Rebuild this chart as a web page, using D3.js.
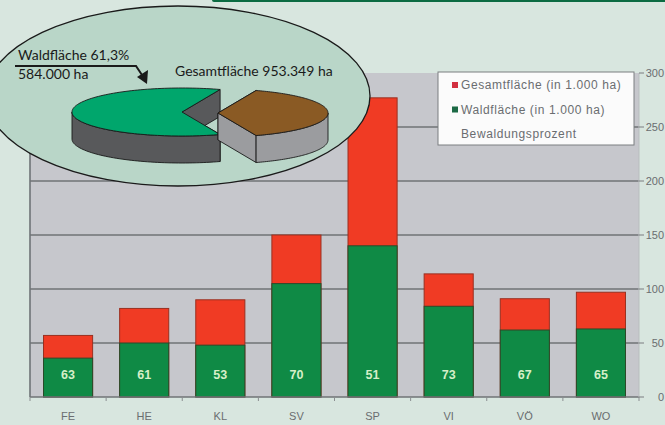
<!DOCTYPE html>
<html><head><meta charset="utf-8">
<script src="https://cdn.jsdelivr.net/npm/d3@7"></script>
<style>html,body{margin:0;padding:0;background:#d8e6df;}svg{display:block;}</style>
</head><body>
<svg id="c" width="665" height="425"></svg>
<script>
// ---- data ----
const categories = ["FE","HE","KL","SV","SP","VI","VÖ","WO"];
const gesamt = [57, 82, 90, 150, 277, 114, 91, 97];      // Gesamtfläche (in 1.000 ha)
const wald   = [36, 50, 48, 105, 140, 84, 62, 63];       // Waldfläche (in 1.000 ha)
const prozent = [63, 61, 53, 70, 51, 73, 67, 65];        // Bewaldungsprozent
const yTicks = [0, 50, 100, 150, 200, 250, 300];
const legendLabels = ["Gesamtfläche (in 1.000 ha)", "Waldfläche (in 1.000 ha)", "Bewaldungsprozent"];
const pieNames = ["Waldfläche", "Übrige Fläche"];
const pieValues = [584000, 369349];
const pieTexts = ["Waldfläche 61,3%", "584.000 ha", "Gesamtfläche 953.349 ha"];

const svg = d3.select("#c");
const W = 665, H = 425;
const plot = {l: 30, r: 639, t: 73, b: 397};

svg.append("rect").attr("width", W).attr("height", H).attr("fill", "#d8e6df");
// header bar
svg.append("rect").attr("x", 212).attr("y", -2).attr("width", 470).attr("height", 4).attr("rx", 2).attr("fill", "#0b6b42");

// ---- bar chart ----
const x = d3.scaleBand().domain(categories).range([plot.l, plot.r]).paddingInner(0.355).paddingOuter(0.1775);
const y = d3.scaleLinear().domain([0, 300]).range([plot.b, plot.t]);

svg.append("rect").attr("x", plot.l).attr("y", plot.t).attr("width", plot.r - plot.l).attr("height", plot.b - plot.t).attr("fill", "#c6c7cc");

// gridlines
svg.append("g").selectAll("line").data(yTicks.filter(d => d > 0 && d < 300)).join("line")
  .attr("x1", plot.l).attr("x2", plot.r).attr("y1", d => y(d)).attr("y2", d => y(d))
  .attr("stroke", "#6f7376").attr("stroke-width", 1.6);
svg.append("line").attr("x1", plot.l).attr("x2", plot.l).attr("y1", plot.t).attr("y2", plot.b).attr("stroke", "#6f7376").attr("stroke-width", 1.6);

// bars
const bars = svg.append("g");
bars.selectAll("rect.g").data(categories).join("rect")
  .attr("x", d => x(d)).attr("width", x.bandwidth())
  .attr("y", (d, i) => y(gesamt[i])).attr("height", (d, i) => y(0) - y(gesamt[i]))
  .attr("fill", "#f03b24").attr("stroke", "#9a3020").attr("stroke-width", 1);
bars.selectAll("rect.w").data(categories).join("rect")
  .attr("x", d => x(d)).attr("width", x.bandwidth())
  .attr("y", (d, i) => y(wald[i])).attr("height", (d, i) => y(0) - y(wald[i]))
  .attr("fill", "#0f8a45").attr("stroke", "#2b4a2a").attr("stroke-width", 1);
bars.selectAll("text").data(categories).join("text")
  .attr("x", d => x(d) + x.bandwidth() / 2).attr("y", 379)
  .attr("text-anchor", "middle").attr("font-family", "Liberation Sans, Arial, sans-serif")
  .attr("font-weight", "bold").attr("font-size", 12.5).attr("fill", "#d6efc8")
  .text((d, i) => prozent[i]);

// x axis
svg.append("line").attr("x1", plot.l).attr("x2", plot.r).attr("y1", plot.b).attr("y2", plot.b).attr("stroke", "#6f7376").attr("stroke-width", 1.6);
const bounds = d3.range(categories.length + 1).map(i => plot.l + i * x.step());
svg.append("g").selectAll("line").data(bounds).join("line")
  .attr("x1", d => d).attr("x2", d => d).attr("y1", plot.b).attr("y2", plot.b + 4)
  .attr("stroke", "#8a8d90").attr("stroke-width", 1);
svg.append("g").selectAll("text").data(categories).join("text")
  .attr("x", d => x(d) + x.bandwidth() / 2).attr("y", 420)
  .attr("text-anchor", "middle").attr("font-family", "Liberation Sans, Arial, sans-serif")
  .attr("font-size", 11).attr("fill", "#6a6d70").text(d => d);

// right axis
svg.append("line").attr("x1", plot.r).attr("x2", plot.r).attr("y1", plot.t).attr("y2", plot.b).attr("stroke", "#b9bdbf").attr("stroke-width", 1);
const ra = svg.append("g");
ra.selectAll("line").data(yTicks).join("line")
  .attr("x1", plot.r).attr("x2", plot.r + 5).attr("y1", d => y(d)).attr("y2", d => y(d))
  .attr("stroke", "#7a7d80").attr("stroke-width", 1);
ra.selectAll("text").data(yTicks).join("text")
  .attr("x", 664).attr("y", d => y(d)).attr("dy", "0.35em").attr("text-anchor", "end")
  .attr("font-family", "Liberation Sans, Arial, sans-serif").attr("font-size", 11).attr("fill", "#6a6d70")
  .text(d => d);

// legend
const lg = svg.append("g");
lg.append("rect").attr("x", 438).attr("y", 72).attr("width", 196).attr("height", 73).attr("fill", "#fbfbfb").attr("stroke", "#7b7e80").attr("stroke-width", 1);
const legColors = ["#d23040", "#1c6a45", null];
legendLabels.forEach((t, i) => {
  const yy = 89 + i * 24.5;
  if (legColors[i]) lg.append("rect").attr("x", 452).attr("y", yy - 7).attr("width", 6).attr("height", 6).attr("fill", legColors[i]);
  lg.append("text").attr("x", 461).attr("y", yy).attr("font-family", "Liberation Sans, Arial, sans-serif")
    .attr("font-size", 12).attr("letter-spacing", 0.6).attr("fill", "#6a6d70").text(t);
});

// ---- inset pie ----
const ins = svg.append("g");
ins.append("ellipse").attr("cx", 178).attr("cy", 96).attr("rx", 192).attr("ry", 90)
  .attr("fill", "#b9d6c8").attr("stroke", "#1a1a1a").attr("stroke-width", 1.3);

const total = d3.sum(pieValues);
const half = Math.PI * pieValues[1] / total;   // half angle of exploded slice
const pie = d3.pie().sort(null).startAngle(Math.PI / 2 + half).endAngle(Math.PI / 2 + half + 2 * Math.PI);
const arcs = pie(pieValues);
const rx = 110, ry = 24, depth = 27;
const centers = [[182, 112], [218, 113]];
const topCol = ["#00a66c", "#8a5a24"], sideCol = ["#58595b", "#9b9c9f"];
const line = d3.line();
arcs.forEach((a, i) => {
  const [cx, cy] = centers[i];
  let t0 = a.startAngle - Math.PI / 2, t1 = a.endAngle - Math.PI / 2;
  if (t0 >= Math.PI) { t0 -= 2 * Math.PI; t1 -= 2 * Math.PI; }
  const P = (t, dz = 0) => [cx + rx * Math.cos(t), cy + ry * Math.sin(t) + dz];
  const g = ins.append("g").attr("stroke", "#1a1a1a").attr("stroke-width", 0.9).attr("stroke-linejoin", "round");
  // cut faces
  [t0, t1].forEach(t => {
    g.append("path").attr("fill", sideCol[i])
      .attr("d", line([[cx, cy], P(t), P(t, depth), [cx, cy + depth]]) + "Z");
  });
  // outer front wall (visible where sin > 0)
  const s0 = Math.max(t0, 0), s1 = Math.min(t1, Math.PI);
  if (s1 > s0) {
    const ts = d3.range(0, 61).map(k => s0 + (s1 - s0) * k / 60);
    const pts = ts.map(t => P(t)).concat(ts.slice().reverse().map(t => P(t, depth)));
    g.append("path").attr("fill", sideCol[i]).attr("d", line(pts) + "Z");
  }
  // top face
  const ts = d3.range(0, 121).map(k => t0 + (t1 - t0) * k / 120);
  g.append("path").attr("fill", topCol[i]).attr("d", line([[cx, cy]].concat(ts.map(t => P(t)))) + "Z");
});

// pie labels + arrow
const ff = "Lato, 'Open Sans', sans-serif";
ins.append("text").attr("x", 18).attr("y", 60).attr("font-family", ff).attr("font-size", 14).attr("fill", "#1a1a1a").text(pieTexts[0]);
ins.append("text").attr("x", 18).attr("y", 79).attr("font-family", ff).attr("font-size", 14).attr("fill", "#1a1a1a").text(pieTexts[1]);
ins.append("text").attr("x", 175).attr("y", 76).attr("font-family", ff).attr("font-size", 14).attr("fill", "#1a1a1a").text(pieTexts[2]);
ins.append("path").attr("d", "M15,66 L136,66 L142,75").attr("fill", "none").attr("stroke", "#1a1a1a").attr("stroke-width", 2);
ins.append("path").attr("d", "M137,77 L148,70 L147,84 Z").attr("fill", "#1a1a1a");
</script>
</body></html>
